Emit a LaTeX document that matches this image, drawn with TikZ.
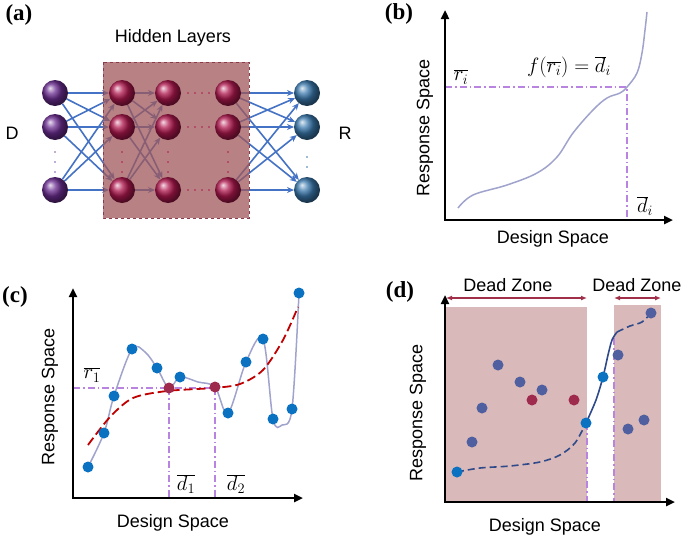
\documentclass[tikz,border=0pt]{standalone}
\usepackage{fontspec}
\setmainfont{Liberation Sans}
\newfontfamily\panelfont{Liberation Serif}
\usetikzlibrary{arrows.meta}
\definecolor{inpurple}{HTML}{6B2D91}
\definecolor{hidred}{HTML}{B0184E}
\definecolor{outblue}{HTML}{3A78AC}
\definecolor{arrblue}{HTML}{4472C4}
\definecolor{boxfill}{HTML}{A0585B}
\definecolor{boxedge}{HTML}{8B3A4A}
\definecolor{lavender}{HTML}{A0A3CC}
\definecolor{ddpurple}{HTML}{B983E0}
\definecolor{dashred}{HTML}{C00000}
\definecolor{dotblue}{HTML}{0A72C0}
\definecolor{dotred}{HTML}{9E2A4E}
\definecolor{dotslate}{HTML}{4F5F9F}
\definecolor{curveblue}{HTML}{2F4A8A}
\definecolor{zonefill}{HTML}{D9B9B9}
\definecolor{zonearrow}{HTML}{A0304A}
\tikzset{
  lab/.style={font=\fontsize{18}{21}\selectfont, inner sep=0pt},
  mlab/.style={font=\fontsize{20}{24}\selectfont, inner sep=0pt},
  panel/.style={font=\panelfont\bfseries\fontsize{23}{25}\selectfont, inner sep=0pt},
  sphere/.style={circle, minimum size=26pt, inner sep=0pt},
  netarrow/.style={draw=arrblue, line width=1.6pt, -{Stealth[length=7pt,width=6pt]}},
  axis/.style={line width=2.5pt, {Triangle[length=9pt,width=8pt]}-{Triangle[length=9pt,width=8pt]}},
  dashdot/.style={draw=ddpurple, line width=1.5pt, dash pattern=on 7pt off 3pt on 1.5pt off 3pt},
  bdot/.style={circle, fill=dotblue, minimum size=11pt, inner sep=0pt},
  rdot/.style={circle, fill=dotred, minimum size=11pt, inner sep=0pt},
  sdot/.style={circle, fill=dotslate, minimum size=11pt, inner sep=0pt},
  tinydot/.style={circle, minimum size=1.6pt, inner sep=0pt}
}
\begin{document}
\begin{tikzpicture}[x=1pt,y=-1pt]
\useasboundingbox (0,0) rectangle (685,536);

% ---------------- panel (a) ----------------
\node[panel] (pa) at (19,15) {(a)};
\node[lab] (hl) at (173,38) {Hidden Layers};
\node[lab] (lD) at (12,133) {D};
\node[lab] (lR) at (345,133) {R};

\foreach \n/\y in {1/93,2/127,3/190}{
  \coordinate (ci\n) at (55,\y);
  \coordinate (ca\n) at (122,\y);
  \coordinate (cb\n) at (168,\y);
  \coordinate (cc\n) at (228,\y);
  \coordinate (co\n) at (307,\y);
}
% arrows (drawn first, box on top)
\foreach \s in {1,2,3}{
  \foreach \t in {1,2,3}{
    \draw[netarrow, shorten <=13pt, shorten >=13pt] (ci\s) -- (ca\t);
    \draw[netarrow, shorten <=13pt, shorten >=13pt] (ca\s) -- (cb\t);
    \draw[netarrow, shorten <=13pt, shorten >=13pt] (cc\s) -- (co\t);
  }
}
\path[fill=boxfill, fill opacity=0.75, draw=boxedge, dashed, line width=0.8pt] (103,62) rectangle (249,218);

\foreach \n in {1,2,3}{
  \node[sphere, ball color=inpurple] (i\n) at (ci\n) {};
  \node[sphere, ball color=hidred] (a\n) at (ca\n) {};
  \node[sphere, ball color=hidred] (b\n) at (cb\n) {};
  \node[sphere, ball color=hidred] (c\n) at (cc\n) {};
  \node[sphere, ball color=outblue] (o\n) at (co\n) {};
}
% ellipsis dots
\foreach \y in {152,162,172}{
  \node[tinydot, fill=inpurple!80] at (55,\y) {};
  \node[tinydot, fill=hidred] at (122,\y) {};
  \node[tinydot, fill=hidred] at (168,\y) {};
  \node[tinydot, fill=hidred] at (228,\y) {};
}
\foreach \y in {157,167}{ \node[tinydot, fill=outblue] at (307,\y) {}; }
\foreach \x in {188,195,202,209}{
  \node[tinydot, fill=hidred] at (\x,93) {};
  \node[tinydot, fill=hidred] at (\x,127) {};
  \node[tinydot, fill=hidred] at (\x,190) {};
}

% ---------------- panel (b) ----------------
\node[panel] (pb) at (399,14) {(b)};
\coordinate (bo) at (445,220);
\coordinate (bi) at (627,87);
\draw[dashdot] (445,87) -- (bi) -- (627,220);
\draw[lavender, line width=1.5pt] plot[smooth, tension=0.6] coordinates {(458,208) (473,195) (507,185) (537,173) (557,157) (573,133) (593,110) (607,98) (620,93) (627,87) (637,73) (642,53) (645,30) (647,12)};
\draw[axis] (445,10) -- (bo) -- (673,220);
\node[lab, rotate=90] (bry) at (425,128) {Response Space};
\node[lab] (bdx) at (553,239) {Design Space};
\node[mlab] (bri) at (461,77) {$\overline{r_i}$};
\node[mlab] (bf) at (569,67) {$f(\overline{r_i})=\overline{d}_i$};
\node[mlab] (bdi) at (645,206) {$\overline{d}_i$};

% ---------------- panel (c) ----------------
\node[panel] (pc) at (15,297) {(c)};
\draw[dashdot] (73,388) -- (215,388);
\draw[dashdot] (169,388) -- (169,498);
\draw[dashdot] (215,388) -- (215,498);
\draw[lavender, line width=1.5pt] plot[smooth, tension=0.55] coordinates {(88,467) (104,433) (114,396) (132,349) (145,352) (157,368) (169,388) (180,377) (198,382) (215,387) (228,413) (246,362) (263,339) (273,419) (282,425) (292,409) (299,293)};
\draw[dashred, line width=1.8pt, dash pattern=on 9pt off 4pt] plot[smooth] coordinates {(88,445) (110,417) (133,398) (167,391) (213,388) (240,384) (263,370) (283,340) (298,307)};
\draw[axis] (73,288) -- (73,498) -- (303,498);
\foreach \n/\x/\y in {1/88/467,2/104/433,3/114/396,4/132/349,5/157/368,6/180/377,7/228/413,8/246/362,9/263/339,10/273/419,11/292/409,12/299/293}{
  \node[bdot] (cb\n) at (\x,\y) {};
}
\node[rdot] (cr1) at (169,388) {};
\node[rdot] (cr2) at (215,387) {};
\node[lab, rotate=90] (cry) at (50,397) {Response Space};
\node[lab] (cdx) at (173,523) {Design Space};
\node[mlab] (cr) at (92,375) {$\overline{r_1}$};
\node[mlab] (cd1) at (186,484) {$\overline{d_1}$};
\node[mlab] (cd2) at (236,484) {$\overline{d_2}$};

% ---------------- panel (d) ----------------
\node[panel] (pd) at (400,292) {(d)};
\fill[zonefill] (445,307) rectangle (587,502);
\fill[zonefill] (614,305) rectangle (661,502);
\draw[dashdot] (587,423) -- (587,502);
\draw[dashdot] (614,338) -- (614,502);
\node[lab] (dz1) at (508,285) {Dead Zone};
\node[lab] (dz2) at (637,285) {Dead Zone};
\coordinate (z1l) at (446,298);
\coordinate (z1r) at (587,298);
\coordinate (z2l) at (614,298);
\coordinate (z2r) at (661,298);
\draw[zonearrow, line width=1.3pt, {Latex[length=6pt,width=5pt]}-{Latex[length=6pt,width=5pt]}] (z1l) -- (z1r);
\draw[zonearrow, line width=1.3pt, {Latex[length=6pt,width=5pt]}-{Latex[length=6pt,width=5pt]}] (z2l) -- (z2r);
\draw[curveblue, line width=1.6pt, dash pattern=on 7pt off 4pt] plot[smooth] coordinates {(457,472) (480,468) (510,466) (540,462) (560,455) (575,443) (586,423)};
\draw[curveblue, line width=1.6pt] plot[smooth] coordinates {(586,423) (596,400) (603,377) (608,355) (612,340) (617,332)};
\draw[curveblue, line width=1.6pt, dash pattern=on 7pt off 4pt] plot[smooth] coordinates {(617,332) (630,326) (642,322) (651,313)};
\draw[axis] (445,295) -- (445,502) -- (675,502);
\foreach \n/\x/\y in {1/472/442,2/482/408,3/498/365,4/520/382,5/542/390,6/618/355,7/628/429,8/644/420,9/651/313}{
  \node[sdot] (ds\n) at (\x,\y) {};
}
\node[rdot] (dr1) at (532,400) {};
\node[rdot] (dr2) at (574,400) {};
\node[bdot] (db1) at (457,472) {};
\node[bdot] (db2) at (586,423) {};
\node[bdot] (db3) at (603,377) {};
\node[lab, rotate=90] (dry) at (418,413) {Response Space};
\node[lab] (ddx) at (545,527) {Design Space};
\end{tikzpicture}
\end{document}
